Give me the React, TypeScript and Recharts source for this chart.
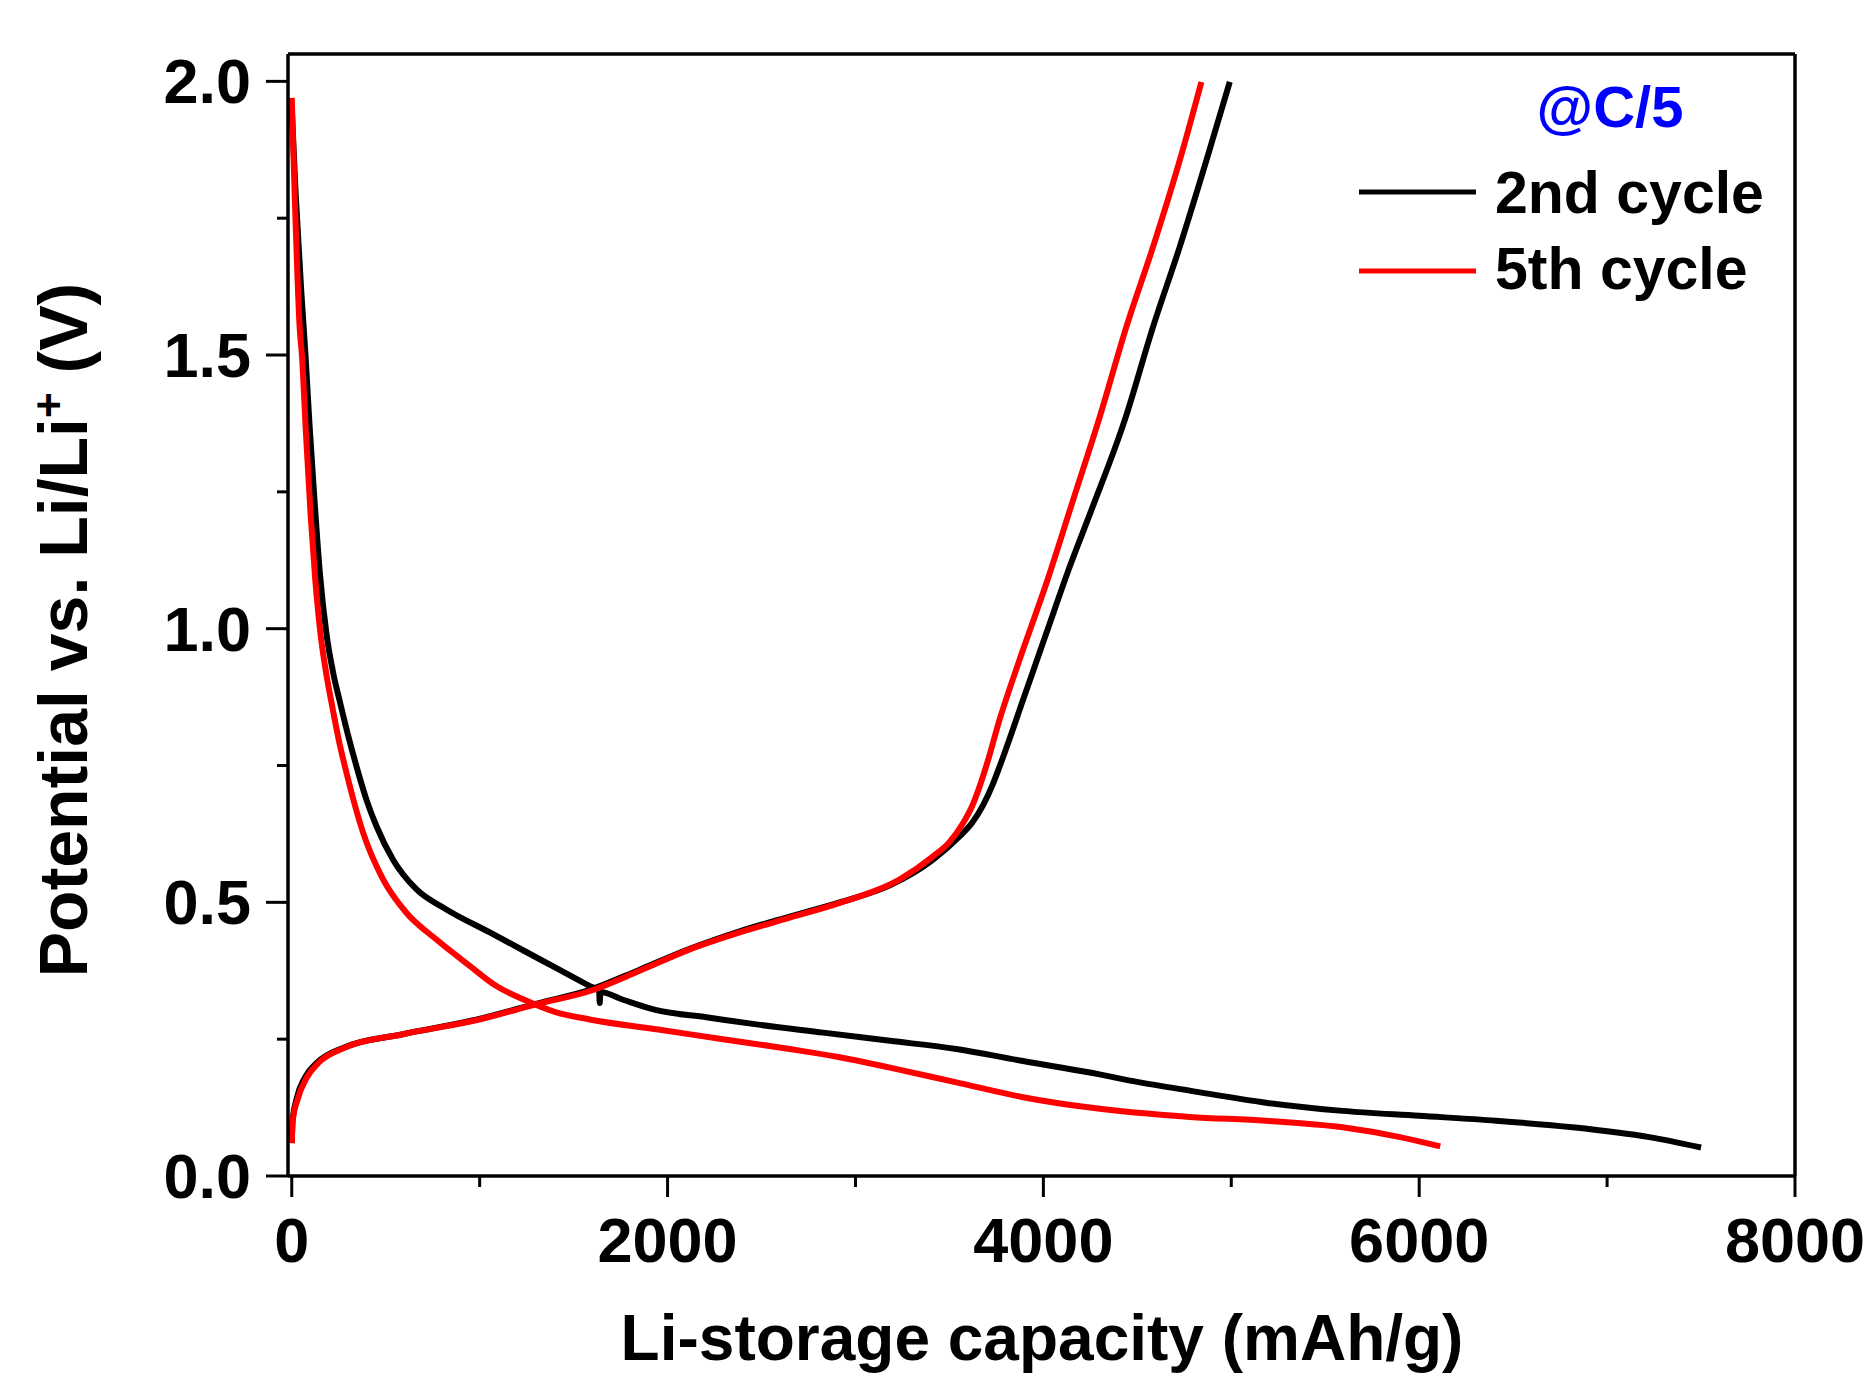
import React from "react";
import {
  LineChart,
  Line,
  XAxis,
  YAxis,
  ReferenceLine,
  Legend,
} from "recharts";

// capacity (mAh/g) and potential (V)
const c2DisCap = [0, 20, 50, 73, 95, 120, 150, 185, 220, 255, 300, 344, 400, 451, 539, 663, 823, 1054, 1320, 1586, 1636, 1639, 1642, 1763, 1941, 2207, 2473, 2828, 3183, 3537, 3892, 4247, 4513, 4779, 5184, 5592, 6000, 6408, 6816, 7224, 7500];
const c2DisV = [1.95, 1.8, 1.62, 1.5, 1.37, 1.24, 1.1, 0.99, 0.92, 0.868, 0.805, 0.749, 0.685, 0.639, 0.578, 0.524, 0.487, 0.445, 0.396, 0.347, 0.338, 0.316, 0.336, 0.322, 0.303, 0.29, 0.277, 0.262, 0.247, 0.232, 0.21, 0.189, 0.171, 0.156, 0.134, 0.119, 0.11, 0.101, 0.089, 0.071, 0.052];

const c2ChgCap = [0, 4, 25, 70, 135, 280, 591, 998, 1304, 1586, 1852, 2118, 2384, 2650, 2916, 3183, 3413, 3555, 3620, 3680, 3730, 3768, 3892, 4016, 4141, 4256, 4433, 4584, 4726, 4868, 4992];
const c2ChgV = [0.06, 0.1, 0.14, 0.18, 0.207, 0.235, 0.259, 0.287, 0.315, 0.34, 0.377, 0.415, 0.447, 0.474, 0.5, 0.531, 0.578, 0.621, 0.645, 0.678, 0.715, 0.749, 0.87, 0.992, 1.114, 1.217, 1.381, 1.552, 1.698, 1.856, 1.999];

const c5DisCap = [0, 15, 43, 54, 75, 100, 125, 155, 185, 211, 250, 291, 380, 486, 610, 770, 947, 1089, 1231, 1400, 1586, 1941, 2295, 2650, 2916, 3183, 3537, 3892, 4247, 4779, 5184, 5592, 5898, 6112];
const c5DisV = [1.97, 1.8, 1.545, 1.5, 1.36, 1.21, 1.09, 0.985, 0.915, 0.866, 0.797, 0.737, 0.627, 0.542, 0.481, 0.432, 0.384, 0.347, 0.323, 0.3, 0.286, 0.268, 0.25, 0.232, 0.217, 0.198, 0.171, 0.144, 0.125, 0.108, 0.101, 0.089, 0.071, 0.054];

const c5ChgCap = [0, 5, 31, 80, 143, 286, 591, 998, 1304, 1586, 1852, 2118, 2384, 2650, 2916, 3236, 3413, 3500, 3573, 3620, 3661, 3710, 3768, 3830, 3892, 4016, 4158, 4300, 4442, 4584, 4726, 4841];
const c5ChgV = [0.06, 0.1, 0.14, 0.18, 0.207, 0.235, 0.259, 0.286, 0.314, 0.338, 0.375, 0.414, 0.445, 0.472, 0.499, 0.542, 0.584, 0.61, 0.645, 0.675, 0.712, 0.765, 0.835, 0.9, 0.962, 1.083, 1.235, 1.387, 1.552, 1.698, 1.856, 1.999];

const xTicks = [0, 1000, 2000, 3000, 4000, 5000, 6000, 7000, 8000];
const yTicks = [0, 0.25, 0.5, 0.75, 1.0, 1.25, 1.5, 1.75, 2.0];

const toPoints = (cap: number[], v: number[]) => cap.map((c, i) => ({ cap: c, v: v[i] }));

const FONT = '"Liberation Sans", Arial, Helvetica, sans-serif';

const XTick = (props: any) => {
  const { x, y, payload } = props;
  const major = payload.value % 2000 === 0;
  return (
    <g>
      <line x1={x} x2={x} y1={y} y2={y + (major ? 21 : 11)} stroke="#000" strokeWidth={3} />
      {major && (
        <text x={x} y={y + 86} textAnchor="middle" fontFamily={FONT} fontWeight="bold" fontSize={63} fill="#000">
          {payload.value}
        </text>
      )}
    </g>
  );
};

const YTick = (props: any) => {
  const { x, y, payload } = props;
  const major = Math.abs(payload.value * 2 - Math.round(payload.value * 2)) < 1e-6;
  return (
    <g>
      <line x1={x - (major ? 22 : 11)} x2={x} y1={y} y2={y} stroke="#000" strokeWidth={3} />
      {major && (
        <text x={x - 37} y={y + 22} textAnchor="end" fontFamily={FONT} fontWeight="bold" fontSize={63} fill="#000">
          {payload.value.toFixed(1)}
        </text>
      )}
    </g>
  );
};

const XTitle = () => (
  <text x={1042} y={1360} textAnchor="middle" fontFamily={FONT} fontWeight="bold" fontSize={64} fill="#000">
    Li-storage capacity (mAh/g)
  </text>
);

const YTitle = () => (
  <text
    x={87}
    y={630}
    transform="rotate(-90, 87, 630)"
    textAnchor="middle"
    fontFamily={FONT}
    fontWeight="bold"
    fontSize={68}
    fill="#000"
  >
    Potential vs. Li/Li
    <tspan dy={-23} fontSize={44}>+</tspan>
    <tspan dy={23}> (V)</tspan>
  </text>
);

const LegendBox = (props: any) => {
  const items = (props.payload || []).filter((p: any) => p.type !== "none");
  return (
    <svg width={480} height={260} style={{ overflow: "visible" }}>
      <text x={270} y={67} textAnchor="middle" fontFamily={FONT} fontWeight="bold" fontSize={58} fill="#0000FF">
        @C/5
      </text>
      {items.map((it: any, i: number) => (
        <g key={it.value}>
          <line x1={19} x2={136} y1={132 + i * 79} y2={132 + i * 79} stroke={it.color} strokeWidth={5} />
          <text x={155} y={153 + i * 76} fontFamily={FONT} fontWeight="bold" fontSize={59} fill="#000">
            {it.value}
          </text>
        </g>
      ))}
    </svg>
  );
};

export default function App() {
  return (
    <div style={{ width: 1872, height: 1376, background: "#fff", position: "relative" }}>
      <style>{`body{margin:0;background:#fff}`}</style>
      <LineChart
        width={1872}
        height={1376}
        margin={{ top: 54, right: 77, bottom: 50, left: 88 }}
      >
        <XAxis
          type="number"
          dataKey="cap"
          domain={[-20, 8000]}
          ticks={xTicks}
          interval={0}
          height={150}
          tickSize={0}
          tickMargin={0}
          tickLine={false}
          axisLine={{ stroke: "#000", strokeWidth: 3.5 }}
          tick={<XTick />}
          label={<XTitle />}
          allowDataOverflow
        />
        <YAxis
          type="number"
          domain={[0, 2.05]}
          ticks={yTicks}
          interval={0}
          width={200}
          tickSize={0}
          tickMargin={0}
          tickLine={false}
          axisLine={{ stroke: "#000", strokeWidth: 3.5 }}
          tick={<YTick />}
          label={<YTitle />}
          allowDataOverflow
        />
        <ReferenceLine y={2.05} stroke="#000" strokeWidth={3.5} />
        <ReferenceLine x={8000} stroke="#000" strokeWidth={3.5} />
        <Legend
          layout="horizontal"
          verticalAlign="middle"
          align="center"
          content={<LegendBox />}
          wrapperStyle={{ position: "absolute", left: 1340, top: 60, width: 480, height: 260 }}
        />
        <Line
          data={toPoints(c2DisCap, c2DisV)}
          dataKey="v"
          name="2nd cycle"
          type="monotone"
          stroke="#000000"
          strokeWidth={6}
          dot={false}
          isAnimationActive={false}
        />
        <Line
          data={toPoints(c2ChgCap, c2ChgV)}
          dataKey="v"
          name="2nd cycle charge"
          legendType="none"
          type="monotone"
          stroke="#000000"
          strokeWidth={6}
          dot={false}
          isAnimationActive={false}
        />
        <Line
          data={toPoints(c5DisCap, c5DisV)}
          dataKey="v"
          name="5th cycle"
          type="monotone"
          stroke="#FF0000"
          strokeWidth={6}
          dot={false}
          isAnimationActive={false}
        />
        <Line
          data={toPoints(c5ChgCap, c5ChgV)}
          dataKey="v"
          name="5th cycle charge"
          legendType="none"
          type="monotone"
          stroke="#FF0000"
          strokeWidth={6}
          dot={false}
          isAnimationActive={false}
        />
      </LineChart>
    </div>
  );
}
